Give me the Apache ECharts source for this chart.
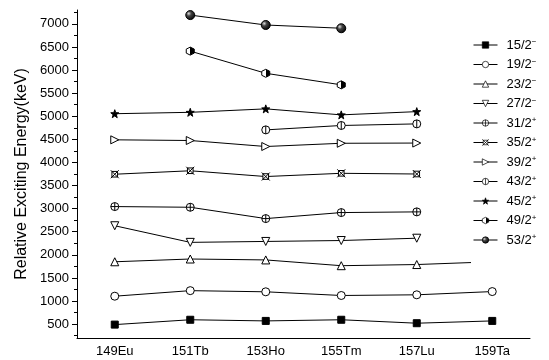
<!DOCTYPE html>
<html>
<head>
<meta charset="utf-8">
<script src="https://cdn.jsdelivr.net/npm/echarts@6/dist/echarts.min.js"></script>
<style>html,body{margin:0;padding:0;background:#fff}#c{width:549px;height:360px}</style>
</head>
<body>
<div id="c"></div>
<script>
const categories = ['149Eu', '151Tb', '153Ho', '155Tm', '157Lu', '159Ta'];
const yTickLabels = [500, 1000, 1500, 2000, 2500, 3000, 3500, 4000, 4500, 5000, 5500, 6000, 6500, 7000];
const yMinorTicks = [250, 750, 1250, 1750, 2250, 2750, 3250, 3750, 4250, 4750, 5250, 5750, 6250, 6750, 7250];
const seriesNames = ['15/2-', '19/2-', '23/2-', '27/2-', '31/2+', '35/2+', '39/2+', '43/2+', '45/2+', '49/2+', '53/2+'];
const s15 = [490, 595, 570, 595, 520, 570];
const s19 = [1105, 1225, 1200, 1120, 1135, 1205];
const s23 = [1850, 1910, 1890, 1765, 1790, 1850];
const s27 = [2630, 2270, 2290, 2310, 2360, null];
const s31 = [3045, 3030, 2785, 2915, 2930, null];
const s35 = [3745, 3820, 3695, 3765, 3750, null];
const s39 = [4490, 4475, 4345, 4415, 4420, null];
const s43 = [null, null, 4705, 4800, 4835, null];
const s45 = [5055, 5085, 5160, 5030, 5100, null];
const s49 = [null, 6410, 5930, 5680, null, null];
const s53 = [null, 7190, 6975, 6905, null, null];
const seriesValues = [s15, s19, s23, s27, s31, s35, s39, s43, s45, s49, s53];

const FONT = 'Liberation Sans, Arial, sans-serif';
const CIRCLE = 'M0,10 A10,10 0 1,0 20,10 A10,10 0 1,0 0,10 Z';
const symbols = [
  {symbol: 'rect', size: 7, fill: '#000'},
  {symbol: 'circle', size: 8, fill: '#fff'},
  {symbol: 'triangle', size: 8, fill: '#fff'},
  {symbol: 'path://M0,0 L20,0 L10,17.3 Z', size: 8, fill: '#fff'},
  {symbol: 'path://' + CIRCLE + ' M10,0 L10,20 M0,10 L20,10', size: 8, fill: '#fff'},
  {symbol: 'path://M3,3 L17,3 L17,17 L3,17 Z M0,0 L20,20 M20,0 L0,20', size: 8, fill: '#fff'},
  {symbol: 'path://M0,0 L17.3,10 L0,20 Z', size: 8, fill: '#fff'},
  {symbol: 'path://' + CIRCLE + ' M10,0 L10,20', size: 8, fill: '#fff'},
  {symbol: 'path://M10,0 L12.35,6.76 L19.51,6.91 L13.80,11.24 L15.88,18.09 L10,14 L4.12,18.09 L6.20,11.24 L0.49,6.91 L7.65,6.76 Z', size: 8, fill: '#000'},
  {symbol: 'path://M10,0 L18.66,5 L18.66,15 L10,20 L1.34,15 L1.34,5 Z', size: 8,
    fill: {type: 'linear', x: 0, y: 0, x2: 1, y2: 0, colorStops: [
      {offset: 0, color: '#fff'}, {offset: 0.5, color: '#fff'}, {offset: 0.5, color: '#000'}, {offset: 1, color: '#000'}]}},
  {symbol: 'circle', size: 9,
    fill: {type: 'radial', x: 0.35, y: 0.35, r: 0.7, colorStops: [
      {offset: 0, color: '#ddd'}, {offset: 0.35, color: '#444'}, {offset: 1, color: '#000'}]}}
];

const series = seriesNames.map((name, i) => ({
  name: name,
  type: 'line',
  data: seriesValues[i],
  symbol: symbols[i].symbol,
  symbolSize: symbols[i].size,
  showSymbol: true,
  lineStyle: {color: '#000', width: 1},
  itemStyle: {color: symbols[i].fill, borderColor: '#000', borderWidth: 1},
  emphasis: {disabled: true},
  z: 2
}));

const chart = echarts.init(document.getElementById('c'), null, {renderer: 'canvas'});
chart.setOption({
  animation: false,
  backgroundColor: '#fff',
  textStyle: {fontFamily: FONT},
  grid: {left: 77, right: 19, top: 10, bottom: 22, containLabel: false, outerBoundsMode: 'none'},
  legend: {
    orient: 'vertical',
    left: 471,
    top: 25,
    padding: [13, 2, 28, 2],
    backgroundColor: '#fff',
    itemWidth: 24,
    itemHeight: 8,
    itemGap: 6,
    selectedMode: false,
    itemStyle: {borderWidth: 0.7},
    lineStyle: {width: 1},
    data: seriesNames,
    formatter: function (name) {
      const base = name.slice(0, -1);
      const sign = name.slice(-1) === '-' ? '\u2212' : '+';
      return '{b|' + base + '}{s|' + sign + '}';
    },
    textStyle: {
      fontFamily: FONT,
      rich: {
        b: {fontSize: 13, lineHeight: 14, color: '#000', fontFamily: FONT, padding: [0, 0, 0, 4]},
        s: {fontSize: 8, lineHeight: 8, color: '#000', fontFamily: FONT, verticalAlign: 'top'}
      }
    }
  },
  xAxis: [
    {
      type: 'category',
      data: categories,
      boundaryGap: true,
      axisLine: {lineStyle: {color: '#000', width: 1}},
      axisTick: {alignWithLabel: true, length: 5, interval: 0, lineStyle: {color: '#000'}},
      axisLabel: {color: '#000', fontSize: 13, fontFamily: FONT, margin: 7, interval: 0},
      splitLine: {show: false}
    },
    {
      type: 'category',
      data: categories,
      boundaryGap: true,
      position: 'bottom',
      axisLine: {show: false},
      axisTick: {alignWithLabel: false, length: 3, interval: 0, lineStyle: {color: '#000'}},
      axisLabel: {show: false},
      splitLine: {show: false}
    }
  ],
  yAxis: [
    {
      type: 'value',
      min: 200,
      max: 7300,
      name: 'Relative Exciting Energy(keV)',
      nameLocation: 'middle',
      nameGap: 47,
      nameMoveOverlap: false,
      nameTextStyle: {color: '#000', fontSize: 16, fontFamily: FONT},
      axisLine: {show: true, lineStyle: {color: '#000', width: 1}},
      axisTick: {show: true, length: 5, customValues: yTickLabels, lineStyle: {color: '#000'}},
      axisLabel: {color: '#000', fontSize: 13, fontFamily: FONT, margin: 8, customValues: yTickLabels,
        formatter: function (v) { return String(v); }},
      splitLine: {show: false}
    },
    {
      type: 'value',
      min: 200,
      max: 7300,
      position: 'left',
      axisLine: {show: false},
      axisTick: {show: true, length: 3, customValues: yMinorTicks, lineStyle: {color: '#000'}},
      axisLabel: {show: false},
      splitLine: {show: false}
    }
  ],
  series: series
});
</script>
</body>
</html>
